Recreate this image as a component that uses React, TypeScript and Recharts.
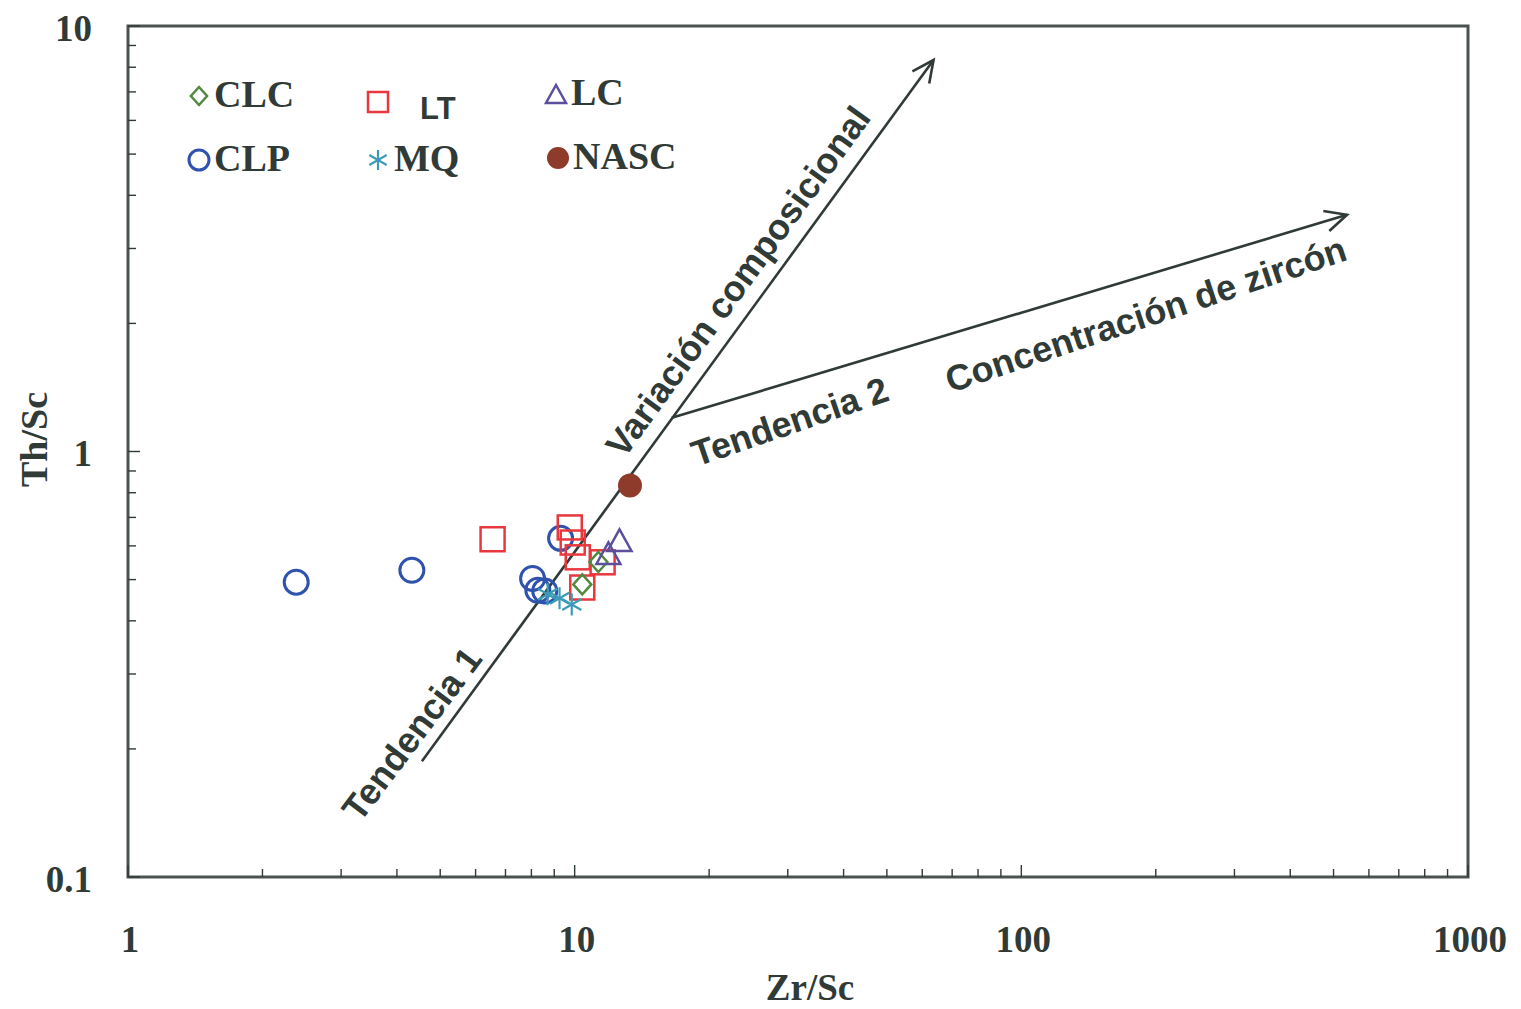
import React from 'react';
import {
  ScatterChart,
  Scatter,
  XAxis,
  YAxis,
  ReferenceLine,
  ReferenceDot,
  ReferenceArea,
} from 'recharts';

// Zr/Sc vs Th/Sc, one array per group
const CLC = [
  { zr: 11.3, th: 0.55 },
  { zr: 10.4, th: 0.487 },
];
const LT = [
  { zr: 6.55, th: 0.622 },
  { zr: 9.75, th: 0.663 },
  { zr: 9.9, th: 0.611 },
  { zr: 10.16, th: 0.564 },
  { zr: 11.55, th: 0.549 },
  { zr: 10.4, th: 0.479 },
];
const LC = [
  { zr: 12.6, th: 0.615 },
  { zr: 11.9, th: 0.573 },
];
const CLP = [
  { zr: 2.38, th: 0.493 },
  { zr: 4.32, th: 0.526 },
  { zr: 8.05, th: 0.503 },
  { zr: 8.27, th: 0.472 },
  { zr: 8.57, th: 0.47 },
  { zr: 9.3, th: 0.625 },
];
const MQ = [
  { zr: 8.7, th: 0.462 },
  { zr: 9.25, th: 0.452 },
  { zr: 9.85, th: 0.437 },
];
const NASC = [{ zr: 13.3, th: 0.832 }];

// trend arrows (start -> end)
const TREND_1 = [
  { x: 4.55, y: 0.187 },
  { x: 63.6, y: 8.32 },
];
const TREND_2 = [
  { x: 16.5, y: 1.2 },
  { x: 536, y: 3.6 },
];

const NOTES = [
  { text: 'Variación composicional', zr: 23.2, th: 2.51, angle: -54 },
  { text: 'Tendencia 1', zr: 4.32, th: 0.217, angle: -53 },
  { text: 'Tendencia 2', zr: 30.3, th: 1.176, angle: -19 },
  { text: 'Concentración de zircón', zr: 190, th: 2.1, angle: -18.5 },
];

const X_TICKS = [
  1, 2, 3, 4, 5, 6, 7, 8, 9,
  10, 20, 30, 40, 50, 60, 70, 80, 90,
  100, 200, 300, 400, 500, 600, 700, 800, 900,
  1000,
];
const X_LABELS = [1, 10, 100, 1000];
const Y_TICKS = [
  0.1, 0.2, 0.3, 0.4, 0.5, 0.6, 0.7, 0.8, 0.9,
  1, 2, 3, 4, 5, 6, 7, 8, 9,
  10,
];
const Y_LABELS = [0.1, 1, 10];

const INK = '#303a36';
const SERIF = '"Liberation Serif", "Times New Roman", serif';
const SANS = '"Liberation Sans", Arial, sans-serif';

const COLORS = {
  clc: '#4f8a3e',
  lt: '#e8383d',
  lc: '#5b4f9e',
  clp: '#2f53ad',
  mq: '#3c9cb8',
  nasc: '#8e3b2c',
};

const Diamond = ({ cx, cy, s = 10 }: any) => (
  <polygon
    points={`${cx},${cy - s} ${cx + s * 0.9},${cy} ${cx},${cy + s} ${cx - s * 0.9},${cy}`}
    fill="none"
    stroke={COLORS.clc}
    strokeWidth={2.5}
  />
);

const Square = ({ cx, cy, s = 12 }: any) => (
  <rect x={cx - s} y={cy - s} width={s * 2} height={s * 2} fill="none" stroke={COLORS.lt} strokeWidth={2.5} />
);

const Triangle = ({ cx, cy, s = 12 }: any) => (
  <polygon
    points={`${cx},${cy - s} ${cx + s},${cy + s * 0.8} ${cx - s},${cy + s * 0.8}`}
    fill="none"
    stroke={COLORS.lc}
    strokeWidth={2.5}
  />
);

const Ring = ({ cx, cy, s = 12 }: any) => (
  <circle cx={cx} cy={cy} r={s} fill="none" stroke={COLORS.clp} strokeWidth={3} />
);

const Asterisk = ({ cx, cy, s = 11 }: any) => {
  const dx = s * 0.87;
  const dy = s * 0.5;
  return (
    <g stroke={COLORS.mq} strokeWidth={2.2}>
      <line x1={cx} y1={cy - s} x2={cx} y2={cy + s} />
      <line x1={cx - dx} y1={cy - dy} x2={cx + dx} y2={cy + dy} />
      <line x1={cx - dx} y1={cy + dy} x2={cx + dx} y2={cy - dy} />
    </g>
  );
};

const Dot = ({ cx, cy, s = 12 }: any) => <circle cx={cx} cy={cy} r={s} fill={COLORS.nasc} />;

const Arrow = ({ x1, y1, x2, y2 }: any) => {
  const a = Math.atan2(y2 - y1, x2 - x1);
  const len = 24;
  const spread = Math.PI / 7;
  return (
    <g stroke={INK} strokeWidth={2.6} fill="none">
      <line x1={x1} y1={y1} x2={x2} y2={y2} />
      <polyline
        points={`${x2 - len * Math.cos(a - spread)},${y2 - len * Math.sin(a - spread)} ${x2},${y2} ${
          x2 - len * Math.cos(a + spread)
        },${y2 - len * Math.sin(a + spread)}`}
      />
    </g>
  );
};

const XTick = ({ x, y, payload }: any) => {
  const major = X_LABELS.includes(payload.value);
  return (
    <g>
      <line x1={x} y1={y} x2={x} y2={y - (major ? 12 : 8)} stroke={INK} strokeWidth={1.4} />
      {major && (
        <text
          x={x + 2}
          y={y + 62}
          textAnchor="middle"
          dominantBaseline="central"
          fill={INK}
          fontFamily={SERIF}
          fontWeight="bold"
          fontSize={37}
        >
          {payload.value}
        </text>
      )}
    </g>
  );
};

const YTick = ({ x, y, payload }: any) => {
  const major = Y_LABELS.includes(payload.value);
  return (
    <g>
      <line x1={x} y1={y} x2={x + (major ? 12 : 8)} y2={y} stroke={INK} strokeWidth={1.4} />
      {major && (
        <text
          x={x - 36}
          y={y + 2}
          textAnchor="end"
          dominantBaseline="central"
          fill={INK}
          fontFamily={SERIF}
          fontWeight="bold"
          fontSize={37}
        >
          {payload.value}
        </text>
      )}
    </g>
  );
};

const Note = (text: string, angle: number) => (props: any) => (
  <text
    x={props.cx}
    y={props.cy}
    transform={`rotate(${angle} ${props.cx} ${props.cy})`}
    textAnchor="middle"
    dominantBaseline="central"
    fill={INK}
    fontFamily={SANS}
    fontWeight="bold"
    fontSize={36}
  >
    {text}
  </text>
);

const legendText: React.CSSProperties = {
  fontFamily: SERIF,
  fontWeight: 'bold',
  fontSize: 38,
  color: INK,
  lineHeight: '38px',
};

const LegendItem = ({ left, top, icon, label, style }: any) => (
  <div style={{ position: 'absolute', left, top, display: 'flex', alignItems: 'center' }}>
    <svg width={28} height={30} style={{ overflow: 'visible' }}>
      {icon}
    </svg>
    <span style={{ ...legendText, ...style }}>{label}</span>
  </div>
);

export default function App() {
  return (
    <div style={{ position: 'absolute', left: 0, top: 0, width: 1521, height: 1009, background: '#fff' }}>
      <ScatterChart width={1521} height={1009} margin={{ top: 26, right: 53, bottom: 0, left: 0 }}>
        <XAxis
          type="number"
          dataKey="zr"
          scale="log"
          domain={[1, 1000]}
          ticks={X_TICKS}
          interval={0}
          axisLine={false}
          tickLine={false}
          tickSize={0}
          tickMargin={0}
          height={132}
          tick={<XTick />}
          label={{
            content: ({ viewBox }: any) => (
              <text
                x={viewBox.x + viewBox.width / 2 + 12}
                y={viewBox.y + 110}
                textAnchor="middle"
                dominantBaseline="central"
                fill={INK}
                fontFamily={SERIF}
                fontWeight="bold"
                fontSize={37}
              >
                Zr/Sc
              </text>
            ),
          }}
        />
        <YAxis
          type="number"
          dataKey="th"
          scale="log"
          domain={[0.1, 10]}
          ticks={Y_TICKS}
          interval={0}
          axisLine={false}
          tickLine={false}
          tickSize={0}
          tickMargin={0}
          width={128}
          tick={<YTick />}
          label={{
            content: ({ viewBox }: any) => {
              const cx = viewBox.x + 34;
              const cy = viewBox.y + viewBox.height / 2 - 12;
              return (
                <text
                  x={cx}
                  y={cy}
                  transform={`rotate(-90 ${cx} ${cy})`}
                  textAnchor="middle"
                  dominantBaseline="central"
                  fill={INK}
                  fontFamily={SERIF}
                  fontWeight="bold"
                  fontSize={38}
                >
                  Th/Sc
                </text>
              );
            },
          }}
        />
        <ReferenceArea x1={1} x2={1000} y1={0.1} y2={10} fill="none" stroke="#4a534f" strokeWidth={3} />

        <Scatter name="CLP" data={CLP} shape={<Ring />} isAnimationActive={false} />
        <Scatter name="LT" data={LT} shape={<Square />} isAnimationActive={false} />
        <Scatter name="CLC" data={CLC} shape={<Diamond />} isAnimationActive={false} />
        <Scatter name="LC" data={LC} shape={<Triangle />} isAnimationActive={false} />
        <Scatter name="MQ" data={MQ} shape={<Asterisk />} isAnimationActive={false} />
        <Scatter name="NASC" data={NASC} shape={<Dot />} isAnimationActive={false} />

        <ReferenceLine segment={TREND_1} shape={Arrow} />
        <ReferenceLine segment={TREND_2} shape={Arrow} />

        {NOTES.map((n) => (
          <ReferenceDot key={n.text} x={n.zr} y={n.th} r={0} shape={Note(n.text, n.angle)} />
        ))}
      </ScatterChart>

      <LegendItem left={186} top={75} label="CLC" icon={<Diamond cx={13} cy={17} s={9} />} />
      <LegendItem
        left={366}
        top={76}
        label="LT"
        icon={<Square cx={12} cy={15} s={10} />}
        style={{ fontFamily: SANS, fontSize: 31, marginLeft: 26, marginTop: 14 }}
      />
      <LegendItem left={543} top={73} label="LC" icon={<Triangle cx={13} cy={18} s={10} />} />
      <LegendItem left={186} top={139} label="CLP" icon={<Ring cx={13} cy={17} s={10} />} />
      <LegendItem left={366} top={139} label="MQ" icon={<Asterisk cx={12} cy={17} s={10} />} />
      <LegendItem left={545} top={137} label="NASC" icon={<Dot cx={13} cy={17} s={11} />} />
    </div>
  );
}
